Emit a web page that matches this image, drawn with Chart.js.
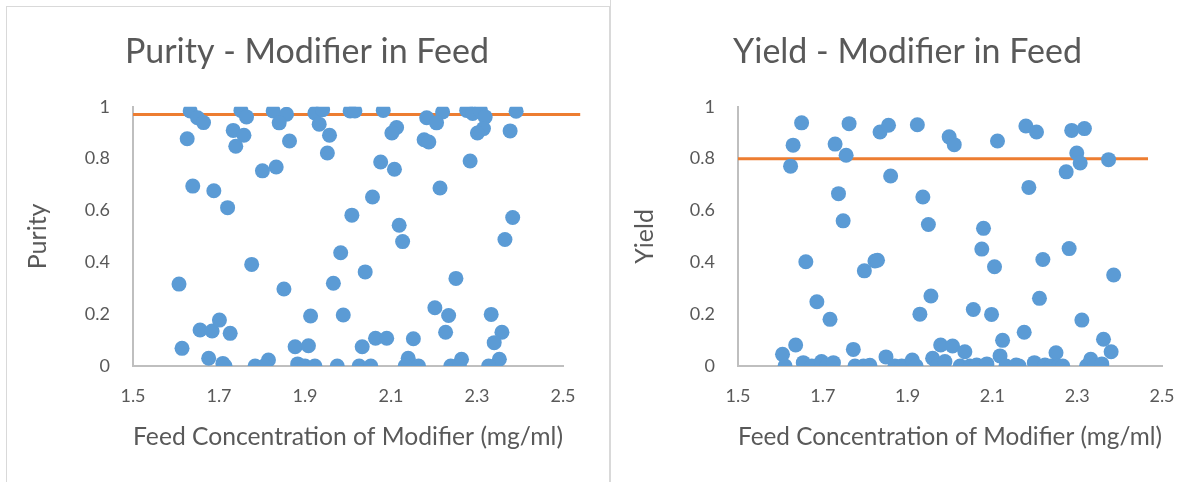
<!DOCTYPE html>
<html>
<head>
<meta charset="utf-8">
<title>Modifier in Feed</title>
<script src="https://cdn.jsdelivr.net/npm/chart.js@4.4.1/dist/chart.umd.min.js"></script>
<style>
  body { margin: 0; background: #fff; width: 1203px; height: 482px; overflow: hidden; position: relative; }
  .panel { position: absolute; border: 1px solid #d9d9d9; border-bottom: none; }
  canvas { position: absolute; }
</style>
</head>
<body>
<div class="panel" style="left:6px; top:6px; width:602px; height:476px;"></div>
<div class="panel" style="left:610px; top:-1px; width:600px; height:484px; border-top:none;"></div>
<canvas id="purityChart" width="600" height="475" style="left:7px; top:7px;"></canvas>
<canvas id="yieldChart" width="591" height="475" style="left:612px; top:7px;"></canvas>
<script>
// axis ticks (both charts)
var xTickValues = [1.5, 1.7, 1.9, 2.1, 2.3, 2.5];
var yTickValues = [0, 0.2, 0.4, 0.6, 0.8, 1];

// purity vs feed concentration
var purityX = [1.633, 1.650, 1.664, 1.626, 1.751, 1.764, 1.733, 1.758, 1.739, 1.826,
               1.857, 1.840, 1.864, 1.923, 1.941, 1.933, 1.957, 1.952, 1.639, 1.688,
               1.720, 1.801, 1.833, 2.005, 2.016, 2.082, 2.113, 2.102, 2.183, 2.220,
               2.206, 2.177, 2.188, 2.276, 2.290, 2.308, 2.319, 2.315, 2.301, 2.391,
               2.377, 2.076, 2.108, 2.284, 2.214, 2.057, 2.009, 2.119, 2.383, 2.127,
               2.365, 1.983, 2.040, 1.966, 2.251, 1.989, 2.202, 2.234, 2.333, 2.033,
               2.064, 2.090, 2.152, 2.227, 2.358, 2.340, 2.140, 2.264, 2.352, 1.975,
               2.026, 2.053, 2.133, 2.164, 2.239, 2.259, 2.327, 1.776, 1.607, 1.851,
               1.913, 1.614, 1.656, 1.684, 1.701, 1.726, 1.676, 1.709, 1.714, 1.877,
               1.908, 1.815, 1.784, 1.805, 1.883, 1.900, 1.923];
var purityY = [0.984, 0.958, 0.939, 0.877, 0.986, 0.961, 0.909, 0.890, 0.848, 0.984,
               0.971, 0.938, 0.868, 0.976, 0.989, 0.933, 0.890, 0.822, 0.694, 0.676,
               0.611, 0.753, 0.768, 0.984, 0.984, 0.986, 0.920, 0.899, 0.958, 0.980,
               0.938, 0.873, 0.864, 0.986, 0.974, 0.986, 0.961, 0.916, 0.899, 0.983,
               0.907, 0.787, 0.759, 0.791, 0.687, 0.652, 0.582, 0.543, 0.573, 0.480,
               0.488, 0.437, 0.363, 0.319, 0.338, 0.197, 0.225, 0.195, 0.199, 0.074,
               0.107, 0.107, 0.105, 0.130, 0.130, 0.090, 0.030, 0.026, 0.026, 0,
               0, 0, 0, 0, 0, 0, 0, 0.392, 0.316, 0.297,
               0.193, 0.068, 0.139, 0.135, 0.177, 0.126, 0.030, 0.010, 0, 0.074,
               0.078, 0.023, 0, 0, 0.008, 0, 0];
var purityTarget = 0.97;
var purityTargetX = [1.5, 2.54];

// yield vs feed concentration
var yieldX = [1.650, 1.630, 1.624, 1.762, 1.729, 1.755, 1.737, 1.748, 1.835, 1.855,
              1.860, 1.923, 1.936, 1.949, 1.998, 2.010, 2.112, 2.179, 2.204, 2.287,
              2.317, 2.299, 2.307, 2.274, 2.374, 2.186, 2.079, 1.660, 1.686, 1.717,
              1.636, 1.605, 1.611, 1.654, 1.674, 1.697, 1.709, 1.725, 1.772, 1.798,
              1.823, 1.829, 1.776, 1.796, 1.811, 1.849, 1.870, 1.886, 1.897, 1.911,
              1.920, 1.929, 1.955, 1.978, 1.959, 1.970, 2.075, 2.105, 2.219, 2.281,
              2.386, 2.055, 2.098, 2.211, 2.311, 2.175, 2.124, 2.362, 2.380, 2.006,
              2.035, 1.988, 2.024, 2.047, 2.063, 2.087, 2.118, 2.132, 2.156, 2.163,
              2.199, 2.224, 2.238, 2.250, 2.256, 2.266, 2.322, 2.332, 2.342, 2.358];
var yieldY = [0.938, 0.852, 0.771, 0.935, 0.856, 0.813, 0.665, 0.560, 0.903, 0.929,
              0.733, 0.931, 0.652, 0.546, 0.884, 0.854, 0.868, 0.926, 0.903, 0.909,
              0.916, 0.822, 0.783, 0.749, 0.796, 0.689, 0.531, 0.402, 0.248, 0.180,
              0.081, 0.045, 0, 0.013, 0, 0.017, 0, 0.013, 0.064, 0.367,
              0.405, 0.408, 0, 0, 0.003, 0.035, 0, 0, 0, 0.023,
              0, 0.200, 0.270, 0.081, 0.030, 0, 0.451, 0.383, 0.411, 0.453,
              0.351, 0.218, 0.199, 0.261, 0.177, 0.130, 0.099, 0.103, 0.055, 0.077,
              0.055, 0.017, 0, 0, 0.004, 0.008, 0.039, 0, 0.004, 0,
              0.013, 0.004, 0, 0.051, 0, 0, 0, 0.026, 0, 0.008];
var yieldTarget = 0.8;
var yieldTargetX = [1.5, 2.467];

var textColor = "#595959";
var fontFamily = "Lato, 'Open Sans', sans-serif";

function toPoints(xs, ys) {
    var pts = [];
    for (var i = 0; i < xs.length; i++) {
        pts.push({ x: xs[i], y: ys[i] });
    }
    return pts;
}

// side = equal left/right padding so the title stays centred on the canvas
function makeChart(canvasId, title, yTitle, xs, ys, targetX, target, side, yTitleShift) {
    return new Chart(canvasId, {
        type: "scatter",
        data: {
            datasets: [{
                data: toPoints(xs, ys),
                backgroundColor: "#5B9BD5",
                borderColor: "#5B9BD5",
                borderWidth: 0,
                pointRadius: 7.5,
                pointHoverRadius: 7.5,
                order: 1
            }, {
                // target level
                type: "line",
                data: targetX.map(function (x) { return { x: x, y: target }; }),
                borderColor: "#ED7D31",
                borderWidth: 3,
                pointRadius: 0,
                showLine: true,
                fill: false,
                clip: false,
                order: 2
            }]
        },
        options: {
            responsive: false,
            animation: false,
            devicePixelRatio: 1,
            layout: { padding: { left: side, right: side, top: 0, bottom: 16 } },
            plugins: {
                legend: { display: false },
                tooltip: { enabled: false },
                title: {
                    display: true,
                    text: title,
                    color: textColor,
                    font: { family: fontFamily, size: 34, weight: "normal" },
                    padding: { top: 25, bottom: 34 }
                }
            },
            scales: {
                x: {
                    type: "linear",
                    min: 1.5,
                    max: 2.5,
                    grid: { display: false, drawTicks: false },
                    border: { color: "#BFBFBF", width: 2 },
                    ticks: {
                        color: textColor,
                        font: { family: fontFamily, size: 18 },
                        padding: 19,
                        maxRotation: 0,
                        autoSkip: false,
                        callback: function (v) { return String(v); }
                    },
                    afterBuildTicks: function (s) {
                        s.ticks = xTickValues.map(function (v) { return { value: v }; });
                    },
                    afterFit: function (s) { s.height = 100; },
                    title: {
                        display: true,
                        text: "Feed Concentration of Modifier (mg/ml)",
                        color: textColor,
                        font: { family: fontFamily, size: 25 },
                        padding: { top: 0, bottom: 14 }
                    }
                },
                y: {
                    type: "linear",
                    min: 0,
                    max: 1,
                    grid: { display: false, drawTicks: false },
                    border: { color: "#BFBFBF", width: 2 },
                    ticks: {
                        color: textColor,
                        font: { family: fontFamily, size: 18 },
                        padding: 23,
                        callback: function (v) { return String(v); }
                    },
                    afterBuildTicks: function (s) {
                        s.ticks = yTickValues.map(function (v) { return { value: v }; });
                    },
                    afterFit: function (s) { s.width = 126 - side; },
                    title: {
                        display: true,
                        text: yTitle,
                        color: textColor,
                        font: { family: fontFamily, size: 25 },
                        padding: { top: yTitleShift, bottom: 0 }
                    }
                }
            }
        }
    });
}

makeChart("purityChart", "Purity - Modifier in Feed", "Purity",
          purityX, purityY, purityTargetX, purityTarget, 44, -28);
makeChart("yieldChart", "Yield - Modifier in Feed", "Yield",
          yieldX, yieldY, yieldTargetX, yieldTarget, 41, -23);
</script>
</body>
</html>
